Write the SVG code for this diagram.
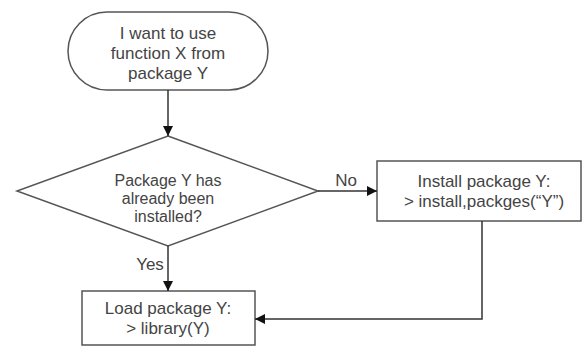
<svg xmlns="http://www.w3.org/2000/svg" width="584" height="347" viewBox="0 0 584 347">
<style>
.shape{fill:#fff;stroke:#555;stroke-width:1.5}
.t{font-family:"Liberation Sans",Arial,sans-serif;font-size:17px;fill:#444;text-anchor:middle}
.d{font-size:16px}
.c{fill:none;stroke:#333;stroke-width:1.5}
</style>
<defs>
<marker id="ah" viewBox="0 0 10 10" refX="10" refY="5" markerWidth="10" markerHeight="10" markerUnits="userSpaceOnUse" orient="auto">
<path d="M0,0 L10,5 L0,10 Z" fill="#111"/>
</marker>
</defs>
<g id="start">
<rect class="shape" x="68" y="12" width="200" height="78" rx="39" ry="39"/>
<text class="t" x="168" y="39">I want to use</text>
<text class="t" x="168" y="59">function X from</text>
<text class="t" x="168" y="79">package Y</text>
</g>
<g id="decision">
<polygon class="shape" points="168,136 318,191 168,246 17,191"/>
<text class="t d" x="168" y="186">Package Y has</text>
<text class="t d" x="168" y="204">already been</text>
<text class="t d" x="168" y="222">installed?</text>
</g>
<g id="install">
<rect class="shape" x="377" y="161" width="204" height="60"/>
<text class="t" x="484" y="187">Install package Y:</text>
<text class="t" x="484" y="207">&gt; install,packges(“Y”)</text>
</g>
<g id="load">
<rect class="shape" x="82" y="291" width="173" height="54"/>
<text class="t" x="168" y="314">Load package Y:</text>
<text class="t" x="168" y="334">&gt; library(Y)</text>
</g>
<g id="connectors">
<line class="c" x1="168" y1="90" x2="168" y2="136" marker-end="url(#ah)"/>
<line class="c" x1="318" y1="191" x2="377" y2="191" marker-end="url(#ah)"/>
<text class="t" x="346" y="186">No</text>
<line class="c" x1="168" y1="246" x2="168" y2="291" marker-end="url(#ah)"/>
<text class="t" x="150" y="270">Yes</text>
<polyline class="c" points="482,221 482,319 255,319" marker-end="url(#ah)"/>
</g>
</svg>
